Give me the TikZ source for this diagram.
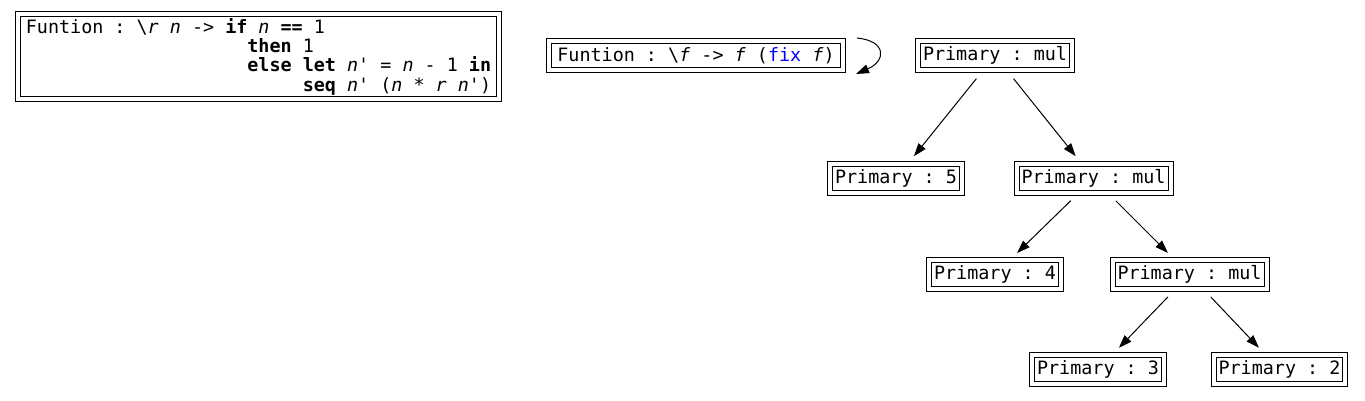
\documentclass[tikz,border=0pt]{standalone}
\usepackage{fontspec}
\setmonofont{DejaVu Sans Mono}
\usetikzlibrary{arrows.meta}
\newcommand{\pad}[1]{\hspace*{#1\fontcharwd\font`\x}}
\begin{document}
\begin{tikzpicture}[x=1pt, y=-1pt,
  dbox/.style={draw, double, double distance=4pt, line width=1pt, outer sep=0pt,
    inner xsep=5pt, inner ysep=0pt, minimum height=29pt,
    font=\ttfamily\fontsize{18.4}{19.3}\selectfont},
  arr/.style={line width=1pt, -{Triangle[length=13pt, width=9pt]}},
  link/.style={arr, shorten <=11pt, shorten >=10pt}]
\useasboundingbox (0,0) rectangle (1365,400);
\node[dbox, minimum width=481pt, minimum height=85pt, align=left] (fun0) at (258.5,56.5){Funtion : \textbackslash\textit{r} \textit{n} -> \textbf{if} \textit{n} \textbf{==} 1\\
\pad{20}\textbf{then} 1\\
\pad{20}\textbf{else} \textbf{let} \textit{n}' = \textit{n} - 1 \textbf{in}\\
\pad{25}\textbf{seq} \textit{n}' (\textit{n} * \textit{r} \textit{n}')};
\node[dbox, minimum width=294pt] (fun1) at (696,55.5){Funtion : \textbackslash\textit{f} -> \textit{f} (\textcolor{blue}{fix} \textit{f})};
\node[dbox] (prim0) at (995,55.5){Primary : mul};
\node[dbox] (prim1) at (896,178.5){Primary : 5};
\node[dbox] (prim2) at (1093.5,178.5){Primary : mul};
\node[dbox] (prim3) at (995,274.5){Primary : 4};
\node[dbox] (prim4) at (1189.5,274.5){Primary : mul};
\node[dbox] (prim5) at (1098,369.5){Primary : 3};
\node[dbox] (prim6) at (1279.5,369.5){Primary : 2};
\draw[arr]([xshift=14pt,yshift=3pt]fun1.north east) .. controls +(30,3) and +(30,-13) .. ([xshift=13pt,yshift=-4pt]fun1.south east);
\draw[link](prim4) -- (prim6);
\draw[link](prim4) -- (prim5);
\draw[link](prim2) -- (prim4);
\draw[link](prim2) -- (prim3);
\draw[link](prim0) -- (prim2);
\draw[link](prim0) -- (prim1);
\end{tikzpicture}
\end{document}
